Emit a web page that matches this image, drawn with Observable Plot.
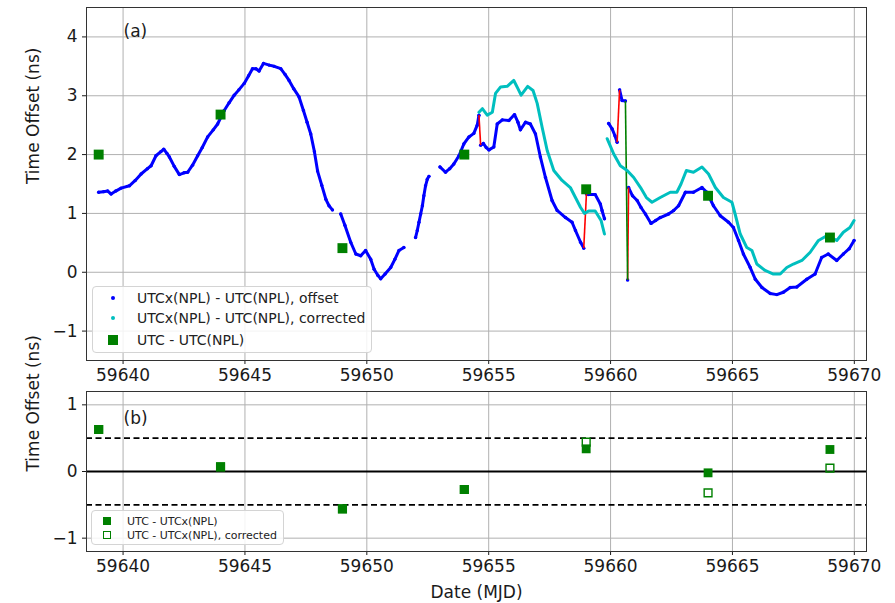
<!DOCTYPE html>
<html><head><meta charset="utf-8">
<script src="https://cdn.jsdelivr.net/npm/d3@7"></script>
<script src="https://cdn.jsdelivr.net/npm/@observablehq/plot@0.6"></script>
<style>
body{margin:0;background:#fff;font-family:"DejaVu Sans",sans-serif;}
#wrap{position:relative;width:895px;height:603px;overflow:hidden;background:#fff;}
#top,#bot{position:absolute;left:0;}
#top{top:0}
#bot{top:385px}
.legend{position:absolute;background:rgba(255,255,255,0.85);border:1px solid #d4d4d4;border-radius:4px;font-family:"DejaVu Sans",sans-serif;color:#222;box-sizing:border-box;}
.legend .sym{position:absolute;transform:translate(-50%,-50%);box-sizing:border-box;}
.legend .txt{position:absolute;transform:translateY(-50%);white-space:nowrap;}
</style></head><body>
<div id="wrap">
<div id="top"></div>
<div id="bot"></div>
<div class="legend" id="leg1" style="left:92px;top:286px;width:280px;height:67px;font-size:14px;">
  <span class="sym" style="left:20px;top:11px;width:4px;height:4px;border-radius:50%;background:blue;"></span>
  <span class="txt" style="left:44px;top:11px;">UTCx(NPL) - UTC(NPL), offset</span>
  <span class="sym" style="left:20px;top:31px;width:4px;height:4px;border-radius:50%;background:#00bfbf;"></span>
  <span class="txt" style="left:44px;top:31px;">UTCx(NPL) - UTC(NPL), corrected</span>
  <span class="sym" style="left:20px;top:53px;width:10px;height:10px;background:green;"></span>
  <span class="txt" style="left:44px;top:53px;">UTC - UTC(NPL)</span>
</div>
<div class="legend" id="leg2" style="left:91px;top:510px;width:193px;height:35px;font-size:11px;">
  <span class="sym" style="left:15px;top:10px;width:8px;height:8px;background:green;"></span>
  <span class="txt" style="left:35px;top:10px;">UTC - UTCx(NPL)</span>
  <span class="sym" style="left:15px;top:24px;width:8px;height:8px;border:1.4px solid green;background:transparent;"></span>
  <span class="txt" style="left:35px;top:24px;">UTC - UTCx(NPL), corrected</span>
</div>
</div>
<script>
// ---------- data ----------
const xTicks = [59640, 59645, 59650, 59655, 59660, 59665, 59670];
const yTicksTop = [-1, 0, 1, 2, 3, 4];
const yTicksBot = [-1, 0, 1];

// UTCx(NPL) - UTC(NPL), offset  (ns)
const blueDay = [
 59639.00,59639.20,59639.37,59639.51,59639.70,59639.92,59640.26,59640.50,59640.74,59641.00,
 59641.15,59641.35,59641.55,59641.67,59641.80,59641.90,59642.10,59642.31,59642.50,59642.65,
 59642.85,59643.06,59643.25,59643.47,59643.70,59643.88,59644.15,59644.35,59644.56,59644.75,
 59644.97,59645.15,59645.31,59645.45,59645.58,59645.76,59646.00,59646.20,59646.47,59646.65,
 59646.81,59647.00,59647.22,59647.40,59647.55,59647.70,59647.85,59647.98,59648.15,59648.32,
 59648.45,59648.59,
 59648.93,59649.10,59649.34,59649.55,59649.75,59649.95,59650.16,59650.30,59650.45,59650.57,
 59650.75,59650.98,59651.15,59651.32,59651.52,
 59652.00,59652.07,59652.14,59652.21,59652.28,59652.34,59652.41,59652.48,59652.55,
 59653.00,59653.23,59653.40,59653.57,59653.78,59653.98,59654.19,59654.39,59654.53,59654.60,
 59654.67,59654.78,59654.90,59655.01,59655.21,59655.35,59655.56,59655.83,59656.06,59656.20,
 59656.30,59656.51,59656.71,59656.92,59657.12,59657.33,59657.60,59657.81,59658.15,59658.42,
 59658.56,59658.77,59658.90,
 59659.01,59659.10,59659.37,59659.58,59659.65,59659.75,
 59659.92,59660.06,59660.18,59660.27,
 59660.37,59660.47,59660.61,
 59660.70,
 59660.74,59660.90,59661.09,59661.25,59661.43,59661.66,59661.85,59662.04,59662.38,59662.59,
 59662.79,59663.07,59663.40,59663.75,59663.95,59664.22,59664.50,59664.84,59665.04,59665.25,
 59665.45,59665.73,59665.94,59666.21,59666.55,59666.82,59667.09,59667.37,59667.64,59668.05,
 59668.39,59668.66,59668.93,59669.28,59669.55,59669.79,59669.99
];
const blueVal = [
 1.36,1.37,1.38,1.33,1.38,1.43,1.47,1.56,1.67,1.76,
 1.81,1.98,2.05,2.09,2.02,1.96,1.80,1.66,1.69,1.70,
 1.82,1.98,2.12,2.30,2.42,2.52,2.75,2.88,3.01,3.10,
 3.21,3.34,3.46,3.46,3.42,3.55,3.52,3.50,3.46,3.36,
 3.26,3.12,2.98,2.75,2.55,2.35,2.05,1.72,1.48,1.24,
 1.13,1.06,
 0.99,0.80,0.51,0.31,0.28,0.37,0.22,0.05,-0.05,-0.11,
 -0.03,0.08,0.22,0.37,0.42,
 0.59,0.71,0.85,0.99,1.13,1.30,1.47,1.58,1.63,
 1.79,1.70,1.76,1.84,1.98,2.18,2.30,2.36,2.50,2.67,
 2.16,2.19,2.12,2.08,2.13,2.52,2.59,2.58,2.68,2.55,
 2.42,2.55,2.52,2.35,1.96,1.61,1.22,1.05,0.93,0.85,
 0.71,0.51,0.41,
 1.33,1.32,1.32,1.16,1.05,0.91,
 2.53,2.44,2.32,2.21,
 3.10,2.92,2.91,
 -0.13,
 1.44,1.30,1.22,1.10,0.99,0.83,0.88,0.93,0.99,1.05,
 1.13,1.36,1.36,1.44,1.36,1.13,0.96,0.85,0.76,0.54,
 0.31,0.08,-0.12,-0.26,-0.36,-0.38,-0.34,-0.26,-0.25,-0.12,
 -0.03,0.25,0.31,0.20,0.31,0.40,0.54
];
const blueSeg = [
 1,1,1,1,1,1,1,1,1,1, 1,1,1,1,1,1,1,1,1,1, 1,1,1,1,1,1,1,1,1,1,
 1,1,1,1,1,1,1,1,1,1, 1,1,1,1,1,1,1,1,1,1, 1,1,
 2,2,2,2,2,2,2,2,2,2, 2,2,2,2,2,
 3,3,3,3,3,3,3,3,3,
 4,4,4,4,4,4,4,4,4,4,
 5,5,5,5,5,5,5,5,5,5, 5,5,5,5,5,5,5,5,5,5, 5,5,5,
 6,6,6,6,6,6,
 7,7,7,7,
 8,8,8,
 9,
 10,10,10,10,10,10,10,10,10,10, 10,10,10,10,10,10,10,10,10,10,
 10,10,10,10,10,10,10,10,10,10, 10,10,10,10,10,10,10
];

// UTCx(NPL) - UTC(NPL), corrected (ns)
const cyanDay = [
 59654.60,59654.74,59654.94,59655.15,59655.28,59655.49,59655.76,59656.03,59656.20,59656.33,
 59656.60,59656.82,59656.99,59657.19,59657.40,59657.67,59658.01,59658.35,59658.56,59658.77,
 59658.93,59659.10,59659.37,59659.61,59659.75,
 59659.86,59660.13,59660.40,59660.68,59660.95,59661.23,59661.47,59661.70,59662.04,59662.45,
 59662.72,59662.89,59663.11,59663.40,59663.75,59664.02,59664.30,59664.63,59664.98,59665.11,
 59665.32,59665.59,59665.80,59666.00,59666.34,59666.68,59666.96,59667.23,59667.50,59667.85,
 59668.19,59668.53,59668.87,59669.28,59669.55,59669.82,59669.99
];
const cyanVal = [
 2.72,2.78,2.67,2.72,3.04,3.15,3.16,3.26,3.12,3.01,
 3.16,3.09,2.87,2.47,2.07,1.73,1.56,1.44,1.27,1.10,
 1.00,1.04,1.04,0.88,0.65,
 2.27,2.01,1.81,1.73,1.61,1.44,1.27,1.19,1.27,1.36,
 1.36,1.50,1.73,1.70,1.79,1.67,1.44,1.27,1.19,0.99,
 0.65,0.42,0.37,0.14,0.03,-0.03,-0.03,0.08,0.14,0.20,
 0.34,0.54,0.62,0.54,0.68,0.76,0.88
];
const cyanSeg = [
 1,1,1,1,1,1,1,1,1,1, 1,1,1,1,1,1,1,1,1,1, 1,1,1,1,1,
 2,2,2,2,2,2,2,2,2,2, 2,2,2,2,2,2,2,2,2,2, 2,2,2,2,2,2,2,2,2,2, 2,2,2,2,2,2,2
];

// jumps joining the offset series
const jumpDayA = [59654.60, 59658.90, 59660.27, 59660.70, 59660.61];
const jumpValA = [2.67, 0.41, 2.21, -0.13, 2.91];
const jumpDayB = [59654.67, 59659.01, 59660.37, 59660.74, 59660.70];
const jumpValB = [2.16, 1.33, 3.10, 1.44, -0.13];
const jumpColor = ["red", "red", "red", "red", "green"];

// UTC - UTC(NPL) (ns), panel (a)
const circDay = [59639, 59644, 59649, 59654, 59659, 59664, 59669];
const circVal = [2.00, 2.68, 0.41, 2.00, 1.41, 1.30, 0.59];

// panel (b)
const diffVal = [0.63, 0.07, -0.56, -0.27, 0.34, -0.02, 0.33];
const diffCorrVal = [0.63, 0.07, -0.56, -0.27, 0.44, -0.32, 0.05];
const limits = [-0.5, 0.5];

// ---------- build ----------
const blue = blueDay.map((d, i) => ({day: d, v: blueVal[i], seg: blueSeg[i]}));
const cyan = cyanDay.map((d, i) => ({day: d, v: cyanVal[i], seg: cyanSeg[i]}));
const jumps = jumpDayA.map((d, i) => ({x1: d, y1: jumpValA[i], x2: jumpDayB[i], y2: jumpValB[i], c: jumpColor[i]}));
const circ = circDay.map((d, i) => ({day: d, v: circVal[i]}));
const diff = circDay.map((d, i) => ({day: d, v: diffVal[i], vc: diffCorrVal[i]}));

const FONT = "DejaVu Sans, sans-serif";
const gridStyle = {stroke: "#b0b0b0", strokeOpacity: 1, strokeWidth: 1};
const xFmt = d => String(d);
const yFmt = d3.format("d");
const TICK_FS = 17;

const topPlot = Plot.plot({
  width: 895, height: 385,
  marginLeft: 86, marginRight: 29, marginTop: 7, marginBottom: 25,
  style: {fontFamily: FONT, fontSize: "17px", background: "transparent", color: "#1a1a1a", overflow: "visible"},
  x: {domain: [59638.5, 59670.5]},
  y: {domain: [-1.5, 4.5]},
  marks: [
    Plot.gridX(xTicks, gridStyle),
    Plot.gridY(yTicksTop, gridStyle),
    Plot.axisX(xTicks, {tickSize: 4, tickPadding: 4, tickFormat: xFmt, label: null, fontSize: TICK_FS}),
    Plot.axisY(yTicksTop, {tickSize: 4, tickPadding: 5, tickFormat: yFmt, label: null, fontSize: TICK_FS}),
    Plot.line(blue, {x: "day", y: "v", z: "seg", stroke: "blue", strokeWidth: 3, strokeLinejoin: "round", strokeLinecap: "round"}),
    Plot.dot(blue, {x: "day", y: "v", r: 1.7, fill: "blue"}),
    Plot.link(jumps, {x1: "x1", y1: "y1", x2: "x2", y2: "y2", stroke: "c", strokeWidth: 1.6}),
    Plot.line(cyan, {x: "day", y: "v", z: "seg", stroke: "#00bfbf", strokeWidth: 3, strokeLinejoin: "round", strokeLinecap: "round"}),
    Plot.dot(circ, {x: "day", y: "v", symbol: "square", r: 5.6, fill: "green"}),
    Plot.frame({stroke: "#333", strokeWidth: 1}),
    Plot.text(["Time Offset (ns)"], {frameAnchor: "left", dx: -53, rotate: -90, fontSize: 17, fill: "#1a1a1a"}),
    Plot.text(["(a)"], {frameAnchor: "top-left", dx: 37, dy: 24, lineAnchor: "middle", textAnchor: "start", fontSize: 17, fill: "#1a1a1a"})
  ]
});

const botPlot = Plot.plot({
  width: 895, height: 218,
  marginLeft: 86, marginRight: 29, marginTop: 6, marginBottom: 52,
  style: {fontFamily: FONT, fontSize: "17px", background: "transparent", color: "#1a1a1a", overflow: "visible"},
  x: {domain: [59638.5, 59670.5]},
  y: {domain: [-1.2, 1.2]},
  marks: [
    Plot.gridX(xTicks, gridStyle),
    Plot.gridY(yTicksBot, gridStyle),
    Plot.axisX(xTicks, {tickSize: 4, tickPadding: 4, tickFormat: xFmt, label: null, fontSize: TICK_FS}),
    Plot.axisY(yTicksBot, {tickSize: 4, tickPadding: 5, tickFormat: yFmt, label: null, fontSize: TICK_FS}),
    Plot.ruleY([0], {stroke: "black", strokeWidth: 1.8}),
    Plot.ruleY(limits, {stroke: "black", strokeWidth: 1.8, strokeDasharray: "6,3.5"}),
    Plot.dot(diff, {x: "day", y: "vc", symbol: "square", r: 4.4, stroke: "green", strokeWidth: 1.4, fill: "none"}),
    Plot.dot(diff, {x: "day", y: "v", symbol: "square", r: 5.0, fill: "green"}),
    Plot.frame({stroke: "#333", strokeWidth: 1}),
    Plot.text(["Time Offset (ns)"], {frameAnchor: "left", dx: -53, rotate: -90, fontSize: 17, fill: "#1a1a1a"}),
    Plot.text(["(b)"], {frameAnchor: "top-left", dx: 37, dy: 27, lineAnchor: "middle", textAnchor: "start", fontSize: 17, fill: "#1a1a1a"}),
    Plot.text(["Date (MJD)"], {frameAnchor: "bottom", dy: 41, lineAnchor: "middle", fontSize: 17, fill: "#1a1a1a"})
  ]
});

document.getElementById("top").appendChild(topPlot);
document.getElementById("bot").appendChild(botPlot);
</script>
</body></html>
